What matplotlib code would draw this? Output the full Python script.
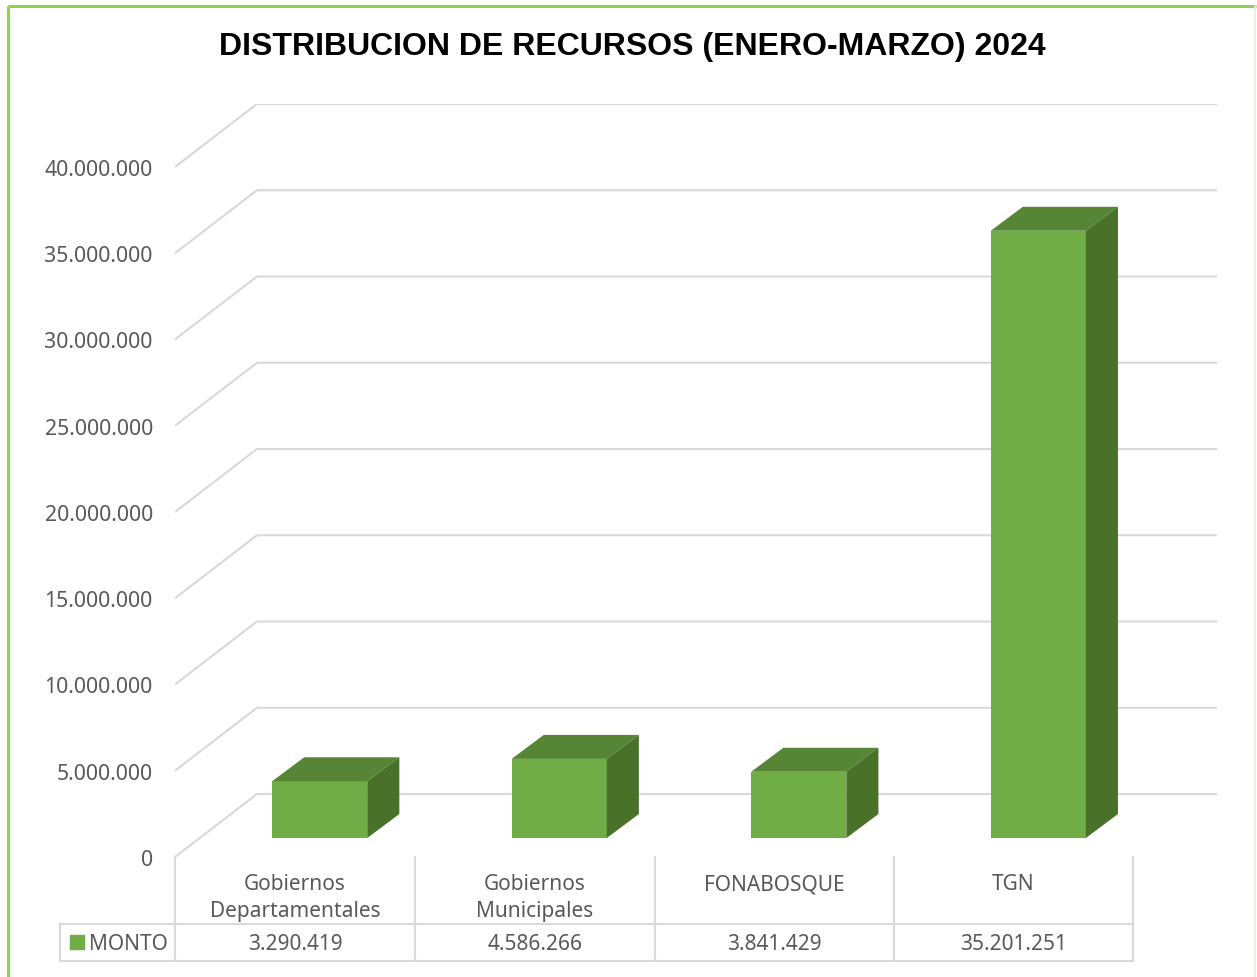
import numpy as np
import matplotlib
matplotlib.use("Agg")
import matplotlib.pyplot as plt
from matplotlib.patches import Polygon, Rectangle

CATEGORIAS = ["Gobiernos\nDepartamentales", "Gobiernos\nMunicipales", "FONABOSQUE", "TGN"]
MONTO = [3290419, 4586266, 3841429, 35201251]
SERIE = "MONTO"
TICKS = [0, 5e6, 10e6, 15e6, 20e6, 25e6, 30e6, 35e6, 40e6]
TITULO = "DISTRIBUCION DE RECURSOS (ENERO-MARZO) 2024"

FRONT, TOP, SIDE = "#70AD47", "#568536", "#4A7129"
GRID, TXT, BORDE = "#D9D9D9", "#595959", "#92D050"

W, H = 1257, 978
fig = plt.figure(figsize=(W / 100, H / 100), dpi=100)

# "3D" geometry (fake perspective), in data units
WALL_DX, WALL_DY = 0.342, 3.65e6     # back wall offset
OFF_X, OFF_Y = 0.104, 1.10e6         # bar front face set back from floor edge
DEP_X, DEP_Y = 0.134, 1.39e6         # bar depth
BW = 0.397
XMAX = 3.85

ax = fig.add_axes([175 / W, (H - 858) / H, (1217 - 175) / W, (858 - 105) / H])
ax.set_xlim(-0.5, XMAX)
ax.set_ylim(0, 43.65e6)
for s in ax.spines.values():
    s.set_visible(False)
ax.set_xticks([])
ax.set_yticks(TICKS)
ax.set_yticklabels([f"{int(t):,}".replace(",", ".") for t in TICKS], color=TXT,
                   fontsize=15.3, family="Noto Sans")
ax.tick_params(axis="y", length=0, pad=16)

for v in TICKS:
    ax.plot([-0.5, -0.5 + WALL_DX, XMAX], [v, v + WALL_DY, v + WALL_DY],
            color=GRID, lw=1.5, zorder=1, solid_capstyle="butt")

x = np.arange(len(MONTO))
x0 = x + OFF_X - BW / 2
ax.bar(x0, MONTO, width=BW, bottom=OFF_Y, align="edge", color=FRONT, zorder=3)
for xi, v in zip(x0, MONTO):
    top = v + OFF_Y
    x1 = xi + BW
    ax.add_patch(Polygon([(xi, top), (xi + DEP_X, top + DEP_Y), (x1 + DEP_X, top + DEP_Y), (x1, top)],
                         closed=True, facecolor=TOP, edgecolor="none", zorder=3))
    ax.add_patch(Polygon([(x1, OFF_Y), (x1 + DEP_X, OFF_Y + DEP_Y), (x1 + DEP_X, top + DEP_Y), (x1, top)],
                         closed=True, facecolor=SIDE, edgecolor="none", zorder=3))

# data table + border in pixel space
tb = fig.add_axes([0, 0, 1, 1])
tb.set_xlim(0, W); tb.set_ylim(H, 0); tb.axis("off")
edges = [175, 415, 655, 894, 1133]
for xe in edges:
    tb.plot([xe, xe], [858, 962], color=GRID, lw=1.5)
tb.plot([60, 60], [925, 962], color=GRID, lw=1.5)
for yy in (925, 962):
    tb.plot([60, 1133], [yy, yy], color=GRID, lw=1.5)
for i, (c, v) in enumerate(zip(CATEGORIAS, MONTO)):
    cx = (edges[i] + edges[i + 1]) / 2
    tb.text(cx, 874, c, ha="center", va="top", fontsize=15, color=TXT,
            family="Noto Sans", linespacing=1.38)
    tb.text(cx, 945, f"{v:,}".replace(",", "."), ha="center", va="center",
            fontsize=15, color=TXT, family="Noto Sans")
tb.add_patch(Rectangle((70, 936), 14, 14, color=FRONT))
tb.text(89, 945, SERIE, ha="left", va="center", fontsize=15, color=TXT, family="Noto Sans")

tb.text(632, 47, TITULO, ha="center", va="center", fontsize=23, fontweight="bold",
        color="black", family="Liberation Sans")

tb.plot([8, 1256], [7, 7], color=BORDE, lw=2.2, solid_capstyle="butt")
tb.plot([8, 8], [7, H], color=BORDE, lw=2.2, solid_capstyle="butt")
tb.plot([1255, 1255], [7, H], color="#E2F0D9", lw=1.2)

fig.savefig("out.png", dpi=100)
